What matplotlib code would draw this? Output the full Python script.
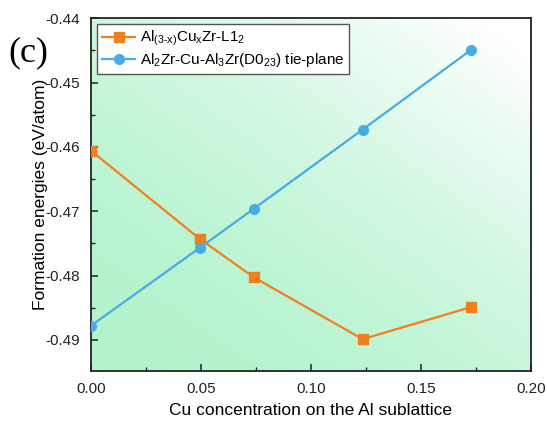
import numpy as np
import matplotlib
matplotlib.use("Agg")
import matplotlib.pyplot as plt
from matplotlib.ticker import MultipleLocator

plt.rcParams['font.family'] = ['Liberation Sans', 'DejaVu Sans']
plt.rcParams['mathtext.fontset'] = 'custom'
plt.rcParams['mathtext.rm'] = 'Liberation Sans'
plt.rcParams['mathtext.it'] = 'Liberation Sans'

# Cu concentration on the Al sublattice
cu_conc = [0.0, 0.0494, 0.0741, 0.1235, 0.1728]

# formation energies (eV/atom)
e_l12 = [-0.4606, -0.4743, -0.4803, -0.4899, -0.4849]
e_tie = [-0.4878, -0.4757, -0.4696, -0.4573, -0.4449]

label_l12 = r'Al$_{(3\text{-}x)}$Cu$_x$Zr-L1$_2$'
label_tie = r'Al$_2$Zr-Cu-Al$_3$Zr(D0$_{23}$) tie-plane'

xlim = (0.0, 0.20)
ylim = (-0.4948, -0.44)

fig = plt.figure(figsize=(5.47, 4.25), dpi=100)
ax = fig.add_axes([0.1664, 0.1278, 0.8043, 0.8292])

# green to white diagonal background
gx, gy = np.meshgrid(np.linspace(0, 1, 300), np.linspace(0, 1, 300))
t = np.clip((gx * 0.8 + gy * 0.9) / 1.6, 0, 1) ** 1.8
mint = np.array([178, 243, 205]) / 255.0
img = mint[None, None, :] * (1 - t[..., None]) + np.ones(3)[None, None, :] * t[..., None]
ax.imshow(img, extent=[xlim[0], xlim[1], ylim[0], ylim[1]], origin='lower',
          aspect='auto', zorder=0)

ax.plot(cu_conc, e_l12, color='#F0801E', marker='s', markersize=6.5, lw=1.6,
        label=label_l12, zorder=3)
ax.plot(cu_conc, e_tie, color='#47ACE2', marker='o', markersize=7, lw=1.6,
        label=label_tie, zorder=3)

ax.set_xlim(xlim)
ax.set_ylim(ylim)
ax.xaxis.set_major_locator(MultipleLocator(0.05))
ax.xaxis.set_minor_locator(MultipleLocator(0.025))
ax.yaxis.set_major_locator(MultipleLocator(0.01))
ax.yaxis.set_minor_locator(MultipleLocator(0.005))
ax.xaxis.set_major_formatter(matplotlib.ticker.FormatStrFormatter('%.2f'))
ax.yaxis.set_major_formatter(matplotlib.ticker.FormatStrFormatter('%.2f'))
ax.tick_params(which='both', direction='in', labelsize=11, colors='#222222')
ax.tick_params(which='major', length=5, width=1.1, pad=8)
ax.tick_params(which='minor', length=3, width=1.0)
for s in ax.spines.values():
    s.set_linewidth(1.3)
    s.set_color('#222222')

ax.set_xlabel('Cu concentration on the Al sublattice', fontsize=12.5, labelpad=5)
ax.set_ylabel('Formation energies (eV/atom)', fontsize=12.5, labelpad=-2)

leg = ax.legend(loc='upper left', fontsize=11, frameon=True, fancybox=False,
                edgecolor='#555555', framealpha=1, handlelength=2.2,
                handletextpad=0.3, borderpad=0.3, labelspacing=0.2,
                borderaxespad=0.4)
leg.get_frame().set_linewidth(1.0)

fig.text(0.015, 0.855, '(c)', fontsize=26, family='Liberation Serif')

fig.savefig('out.png', dpi=100)
